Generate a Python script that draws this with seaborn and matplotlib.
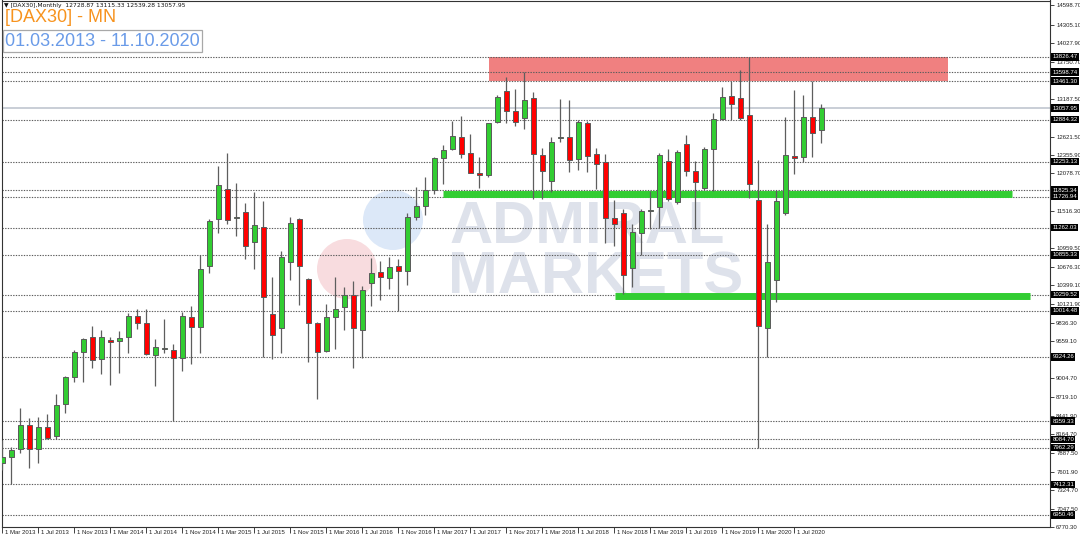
"""DAX30 monthly candles, Admiral Markets style."""
import numpy as np
import pandas as pd
import matplotlib
matplotlib.use("Agg")
import matplotlib.pyplot as plt
import matplotlib.transforms as mtransforms
from matplotlib.patches import Rectangle, Ellipse
import seaborn as sns

# monthly candles, Mar 2013 .. Oct 2020
months = pd.date_range("2013-03-01", "2020-10-01", freq="MS")
opens = [7728, 7818, 7938, 8298, 7938, 8278, 8138, 8613, 9018, 9403,
         9618, 9288, 9578, 9558, 9618, 9943, 9828, 9348, 9445, 9423,
         9303, 9918, 9778, 10688, 11388, 11838, 11410, 11493, 11053, 11278,
         9963, 9763, 10753, 11393, 10488, 9838, 9413, 9928, 10078, 10253,
         9728, 10438, 10603, 10508, 10688, 10613, 11418, 11588, 11834, 12302,
         12448, 12629, 12378, 12086, 12051, 12846, 13318, 13007, 12916, 13208,
         12358, 11960, 12604, 12629, 12287, 12830, 12363, 12242, 11412, 11488,
         10657, 11186, 11508, 11573, 12262, 11649, 12514, 12106, 11860, 12438,
         12891, 13243, 13208, 12956, 11684, 9761, 10476, 11488, 12343, 12322,
         12931, 12728.87]
highs = [8078, 7968, 8563, 8403, 8428, 8463, 8768, 9030, 9428, 9600,
         9788, 9728, 9628, 9713, 9978, 10038, 10038, 9593, 9888, 9518,
         9993, 10088, 10848, 11393, 12188, 12388, 11928, 11628, 11793, 11663,
         10528, 10913, 11418, 11413, 10513, 9845, 10113, 10528, 10368, 10468,
         10388, 10803, 10768, 10818, 10798, 11488, 11878, 12026, 12327, 12503,
         12871, 12941, 12664, 12327, 12840, 13258, 13525, 13343, 13595, 13293,
         12463, 12629, 13198, 13172, 12881, 12871, 12453, 12368, 11673, 11548,
         11311, 11548, 11814, 12378, 12443, 12428, 12654, 12262, 12478, 12981,
         13374, 13459, 13635, 13826, 12277, 11325, 11825, 12931, 13323, 13258,
         13459, 13115.33]
lows = [7628, 7413, 7878, 7653, 7728, 8088, 8088, 8478, 8953, 8953,
        9153, 9063, 8903, 9078, 9378, 9738, 9353, 8888, 9378, 8359,
        9118, 9213, 9378, 10588, 11178, 11313, 11143, 10788, 10638, 9318,
        9288, 9378, 10478, 10103, 9253, 8688, 9393, 9438, 9728, 9153,
        9303, 10093, 10178, 10338, 10008, 10398, 11378, 11457, 11774, 11925,
        12428, 12302, 12076, 11860, 12026, 12830, 12840, 12790, 12740, 11699,
        11699, 11799, 12554, 12101, 12126, 12101, 11850, 11030, 10985, 10265,
        10366, 10854, 11246, 11261, 11664, 11613, 12041, 11246, 11824, 11814,
        12881, 12881, 12881, 11714, 7962, 9317, 10151, 11460, 12066, 12252,
        12317, 12539.28]
closes = [7818, 7928, 8298, 7938, 8278, 8103, 8603, 9018, 9403, 9593,
          9278, 9628, 9553, 9608, 9943, 9828, 9363, 9468, 9450, 9313,
          9938, 9768, 10638, 11363, 11903, 11373, 11425, 10988, 11298, 10228,
          9653, 10818, 11338, 10688, 9828, 9403, 9923, 10048, 10253, 9753,
          10323, 10578, 10518, 10668, 10613, 11428, 11588, 11834, 12312, 12428,
          12639, 12368, 12086, 12051, 12830, 13223, 13017, 12856, 13182, 12368,
          12111, 12554, 12629, 12277, 12845, 12337, 12217, 11412, 11311, 10557,
          11196, 11508, 11533, 12348, 11699, 12393, 12116, 11945, 12443, 12891,
          13223, 13117, 12916, 11915, 9786, 10751, 11660, 12348, 12312, 12931,
          12690, 13057.95]

# right scale labels
tick_vals = [14598.70, 14305.10, 14027.90, 13750.70, 13187.50, 12621.50,
             12355.90, 12078.70, 11516.30, 10959.50, 10676.30, 10399.10,
             10121.90, 9836.30, 9559.10, 9004.70, 8719.10, 8441.90, 8164.70,
             7887.50, 7601.90, 7324.70, 7047.50, 6770.30]
# horizontal levels drawn as dotted lines with black price boxes
level_vals = [13826.47, 13598.74, 13461.30, 12884.32, 12253.13, 11825.34,
              11726.94, 11262.03, 10855.33, 10259.52, 10014.48, 9324.26,
              8359.33, 8084.70, 7962.29, 7412.31, 6950.46]
current_price = 13057.95
resistance_zone = (13461.30, 13826.47)
support_lines = [11775.0, 10237.0]

df = pd.DataFrame({"month": months, "open": opens, "high": highs,
                   "low": lows, "close": closes})
df["x"] = np.arange(len(df))
df["up"] = df["close"] >= df["open"]

sns.set_theme(style="white")
plt.rcParams["font.family"] = ["Liberation Sans", "DejaVu Sans"]

W, H = 1080, 541
fig = plt.figure(figsize=(10.8, 5.41), dpi=100)
fig.patch.set_facecolor("white")
ax = fig.add_axes([1.7 / W, (H - 527) / H, 1048.3 / W, 526.5 / H])
ax.set_facecolor("white")
ax.set_xlim(-0.067, 116.41)
ax.set_ylim(6771.3, 14672)

def px(x, y):
    return x / W, 1 - y / H

# watermark
ax.add_patch(Ellipse(px(393, 220), 60 / W, 60 / H, transform=fig.transFigure,
                     color="#dce8f8", zorder=0.5, lw=0))
ax.add_patch(Ellipse(px(347, 269), 60 / W, 60 / H, transform=fig.transFigure,
                     color="#f8dcdf", zorder=0.5, lw=0))
for txt, (wx, wy) in [("ADMIRAL", (450, 243)), ("MARKETS", (448, 293))]:
    ax.text(*px(wx, wy), txt, transform=fig.transFigure, fontsize=43,
            fontweight="bold", color="#dee2eb", ha="left", va="baseline",
            zorder=0.6)

# resistance zone
ax.add_patch(Rectangle((54.1, resistance_zone[0]), 51.0,
                       resistance_zone[1] - resistance_zone[0],
                       color="#f08080", lw=0, zorder=1))

# levels
for lv in level_vals:
    ax.axhline(lv, color="#5c5c5c", lw=0.8, ls=(0, (1.2, 1.2)), zorder=2)
ax.axhline(current_price, color="#c9ced6", lw=1.4, zorder=1.5)

# support lines
ax.hlines(support_lines[0], 48.97, 112.2, color="#32cd32", lw=5, zorder=2.5)
ax.hlines(support_lines[1], 68.1, 114.2, color="#32cd32", lw=5, zorder=2.5)

# candles
ax.vlines(df["x"], df["low"], df["high"], color="#5e5e5e", lw=0.9, zorder=3)
body_lo = np.minimum(df["open"], df["close"])
body_h = np.maximum((df["close"] - df["open"]).abs(), 18)
colors = np.where(df["up"], "#32cd32", "#ff0000")
ax.bar(df["x"], body_h, bottom=body_lo, width=0.6, color=colors,
       edgecolor="#5a5a5a", linewidth=0.7, zorder=4)

# right axis
ax.yaxis.tick_right()
ax.set_yticks(tick_vals)
ax.set_yticklabels([f"{v:.2f}" for v in tick_vals], fontsize=4.3)
ax.tick_params(axis="y", direction="out", length=3, width=0.6, pad=1.5,
               colors="#222222")
ax.yaxis.set_tick_params(right=True, left=False)
box_tr = mtransforms.blended_transform_factory(ax.transAxes, ax.transData)
for lv in level_vals + [current_price]:
    ax.text(1.0022, lv, f"{lv:.2f}", transform=box_tr, fontsize=4.3,
            color="white", ha="left", va="center", zorder=10, clip_on=False,
            bbox=dict(boxstyle="square,pad=0.2", fc="black", ec="none"))

# bottom axis
tick_idx = list(range(0, len(df), 4))[:23]
ax.set_xticks(tick_idx)
ax.set_xticklabels([])
ax.tick_params(axis="x", direction="out", length=4, width=0.6,
               colors="#222222", bottom=True)
lab_tr = mtransforms.blended_transform_factory(ax.transData, ax.transAxes)
for i in tick_idx:
    m = df["month"].iloc[i]
    ax.text(i + 0.25, -0.006, f"1 {m:%b %Y}", transform=lab_tr, fontsize=4.3,
            ha="left", va="top", color="#222222", clip_on=False)

for sp in ax.spines.values():
    sp.set_color("#333333")
    sp.set_linewidth(0.8)

# header texts
fig.text(*px(4, 5), "\u25bc [DAX30],Monthly  12728.87 13115.33 12539.28 13057.95",
         fontsize=4.3, color="#111111", ha="left", va="center",
         family=["DejaVu Sans"])
fig.text(*px(5, 18), "[DAX30] - MN", fontsize=13, color="#f7931e",
         ha="left", va="center")
fig.text(*px(5, 41), "01.03.2013 - 11.10.2020", fontsize=13, color="#6a9be8",
         ha="left", va="center",
         bbox=dict(boxstyle="square,pad=0.12", fc="white", ec="#a8a8a8", lw=0.9))

fig.savefig("out.png", dpi=100)
